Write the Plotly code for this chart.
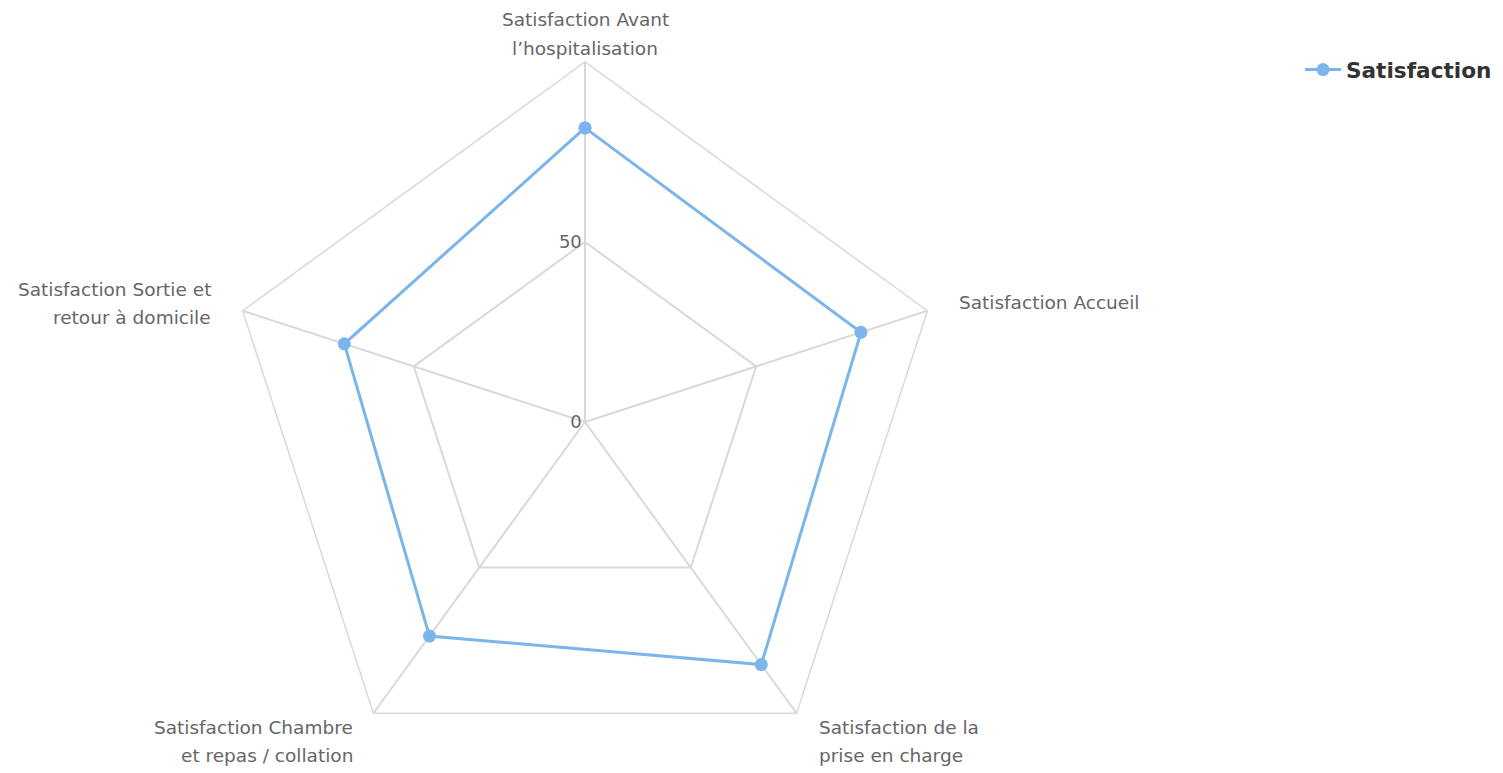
import math
import plotly.graph_objects as go

categories = [
    "Satisfaction Avant<br>l’hospitalisation",
    "Satisfaction Accueil",
    "Satisfaction de la<br>prise en charge",
    "Satisfaction Chambre<br>et repas / collation",
    "Satisfaction Sortie et<br>retour à domicile",
]
values = [81.7, 80.6, 83.3, 73.5, 70.3]
series_name = "Satisfaction"
radial_ticks = [0, 50]

W, H = 1503, 790
cx, cy, R = 585, 422, 360
top, bottom = cy - R, cy + R
LINE = 28  # label line spacing (px)

fig = go.Figure()
fig.add_trace(go.Scatterpolar(
    r=values + values[:1],
    theta=categories + categories[:1],
    mode="lines+markers",
    name=series_name,
    line=dict(color="#7cb5ec", width=3),
    marker=dict(color="#7cb5ec", size=13),
))

# category labels placed just outside each vertex of the outer pentagon
label_font = dict(family="DejaVu Sans", size=18.5, color="#666666")
annotations = []
n = len(categories)
for i, cat in enumerate(categories):
    ang = math.radians(90 - 360 * i / n)
    vx = cx + R * math.cos(ang)
    vy = cy - R * math.sin(ang)
    lines = cat.split("<br>")
    c = math.cos(ang)
    s = math.sin(ang)
    if abs(c) < 0.1:
        xanchor, dx = "center", 0
    elif c > 0:
        xanchor, dx = "left", 30 if s > 0 else 20
    else:
        xanchor, dx = "right", -30 if s > 0 else -18
    if s > 0.9:
        first_y = vy - 42
    elif s > 0:
        first_y = vy - 21 if len(lines) > 1 else vy - 8
    else:
        first_y = vy + 14
    for k, txt in enumerate(lines):
        py = first_y + k * LINE
        annotations.append(dict(
            text=txt, xref="paper", yref="paper",
            x=(vx + dx) / W, y=(bottom - py) / (bottom - top),
            xanchor=xanchor, yanchor="middle", showarrow=False,
            font=label_font,
        ))

grid = "#d9d9d9"
fig.update_layout(
    width=W, height=H,
    margin=dict(l=0, r=0, t=top, b=H - bottom, pad=0),
    paper_bgcolor="white",
    plot_bgcolor="white",
    font=dict(family="DejaVu Sans", size=18, color="#666666"),
    annotations=annotations,
    polar=dict(
        domain=dict(x=[(cx - R) / W, (cx + R) / W], y=[0, 1]),
        bgcolor="white",
        gridshape="linear",
        radialaxis=dict(
            range=[0, 100], tickvals=radial_ticks, angle=90,
            side="counterclockwise", tickangle=90,
            showline=False, ticks="", gridcolor=grid, gridwidth=1.5,
            tickfont=dict(size=18, color="#666666"),
        ),
        angularaxis=dict(
            rotation=90, direction="clockwise",
            showline=True, linecolor=grid, linewidth=1.5,
            gridcolor=grid, gridwidth=1.5, ticks="",
            showticklabels=False,
        ),
    ),
    showlegend=True,
    legend=dict(
        x=1300 / W, xanchor="left",
        y=(bottom - 70) / (bottom - top), yanchor="middle",
        font=dict(family="DejaVu Sans", size=21.6, color="#333333", weight="bold"),
        bgcolor="rgba(0,0,0,0)",
        itemwidth=36,
    ),
)

fig.write_html(
    "out.html",
    config={"displayModeBar": False},
    post_script="document.documentElement.style.overflow='hidden';document.body.style.overflow='hidden';document.body.style.margin='0';",
)
